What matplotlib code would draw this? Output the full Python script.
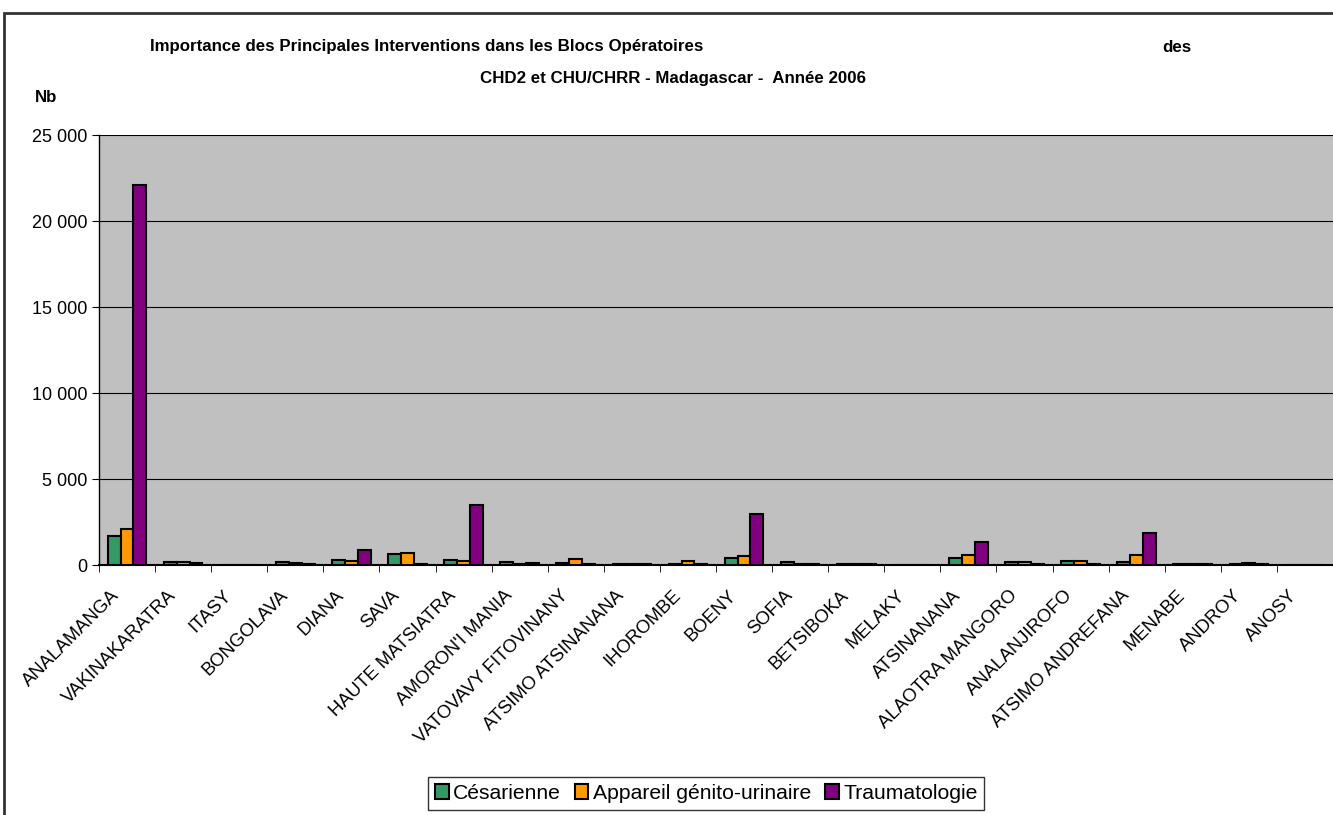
import numpy as np
import matplotlib
matplotlib.use("Agg")
import matplotlib.pyplot as plt
import matplotlib.transforms as mtransforms
from matplotlib.patches import Rectangle
from matplotlib.ticker import FuncFormatter

plt.rcParams['font.family'] = ['Liberation Sans', 'DejaVu Sans']

regions = ["ANALAMANGA", "VAKINAKARATRA", "ITASY", "BONGOLAVA", "DIANA", "SAVA",
           "HAUTE MATSIATRA", "AMORON'I MANIA", "VATOVAVY FITOVINANY",
           "ATSIMO ATSINANANA", "IHOROMBE", "BOENY", "SOFIA", "BETSIBOKA",
           "MELAKY", "ATSINANANA", "ALAOTRA MANGORO", "ANALANJIROFO",
           "ATSIMO ANDREFANA", "MENABE", "ANDROY", "ANOSY"]

cesarienne = [1700, 200, 0, 150, 310, 640, 290, 150, 120, 60, 50, 390, 200, 40,
              0, 390, 170, 210, 200, 50, 50, 20]
genito = [2090, 150, 0, 120, 210, 700, 230, 30, 330, 70, 210, 520, 60, 80,
          0, 560, 160, 250, 560, 80, 100, 20]
trauma = [22100, 90, 0, 60, 890, 40, 3470, 100, 70, 40, 50, 2960, 40, 30,
          0, 1340, 40, 40, 1840, 30, 30, 20]

series = [("Césarienne", cesarienne, "#339966"),
          ("Appareil génito-urinaire", genito, "#FF9900"),
          ("Traumatologie", trauma, "#800080")]

fig = plt.figure(figsize=(13.33, 8.15), dpi=100)
# outer chart border (cropped at right and bottom like the source)
fig.patches.append(Rectangle((4 / 1333, -0.1), 1.2, 1 - 13 / 815 + 0.1,
                             transform=fig.transFigure, fill=False,
                             edgecolor="#333333", linewidth=2))

ax = fig.add_axes([99 / 1333, 1 - 565 / 815, 1 - 99 / 1333, 430 / 815])
ax.set_facecolor("#C0C0C0")

x = np.arange(len(regions))
w = 0.23
for i, (name, vals, col) in enumerate(series):
    ax.bar(x + (i - 1) * w, vals, w, color=col, edgecolor="black",
           linewidth=1.5, label=name, zorder=3)

ax.set_ylim(0, 25000)
ax.set_xlim(-0.5, 21.33)
ax.set_yticks(np.arange(0, 25001, 5000))
ax.yaxis.set_major_formatter(FuncFormatter(lambda v, p: f"{int(v):,}".replace(",", " ")))
ax.grid(axis="y", color="black", linewidth=0.8, zorder=1)
ax.tick_params(axis="y", labelsize=13, length=5, direction="out")

ax.set_xticks(x)
ax.set_xticklabels(regions, rotation=45, ha="right", va="center",
                   rotation_mode="anchor", fontsize=13.3)
ax.tick_params(axis="x", which="major", length=0, pad=20)
shift = mtransforms.ScaledTranslation(-0.10, 0, fig.dpi_scale_trans)
for lab in ax.get_xticklabels():
    lab.set_transform(lab.get_transform() + shift)
ax.set_xticks(np.arange(-0.5, 21.6, 1), minor=True)
ax.tick_params(axis="x", which="minor", length=5, direction="out")

for s in ["top", "right"]:
    ax.spines[s].set_visible(False)
ax.spines["left"].set_linewidth(1)
ax.spines["bottom"].set_linewidth(1.5)

fig.text(150 / 1333, 1 - 47 / 815,
         "Importance des Principales Interventions dans les Blocs Opératoires",
         fontsize=12.2, fontweight="bold", va="center", ha="left")
fig.text(1177 / 1333, 1 - 47 / 815, "des", fontsize=12.2, fontweight="bold",
         va="center", ha="center")
fig.text(673 / 1333, 1 - 78 / 815, "CHD2 et CHU/CHRR - Madagascar -  Année 2006",
         fontsize=12.2, fontweight="bold", va="center", ha="center")
fig.text(35 / 1333, 1 - 98 / 815, "Nb", fontsize=12.2, fontweight="bold",
         va="center", ha="left")

leg = fig.legend(loc="center", bbox_to_anchor=(706 / 1333, 1 - 793.5 / 815),
                 ncol=3, fontsize=15.2, frameon=True, fancybox=False,
                 edgecolor="black", handlelength=0.66, handleheight=0.66,
                 handletextpad=0.2, columnspacing=0.66, borderpad=0.33)
leg.get_frame().set_linewidth(1)

fig.savefig("out.png", dpi=100)
